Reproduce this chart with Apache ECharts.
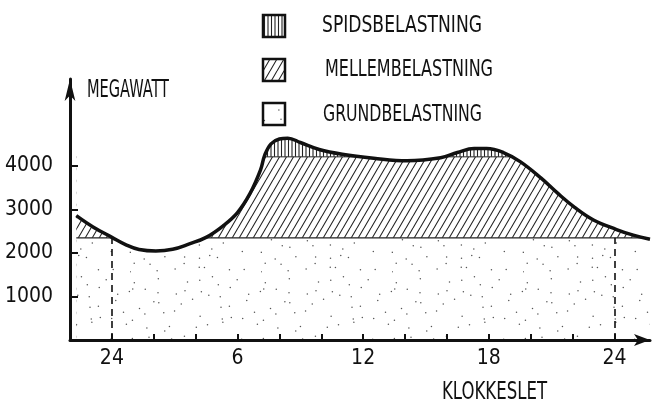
<!DOCTYPE html>
<html>
<head>
<meta charset="utf-8">
<script src="https://cdn.jsdelivr.net/npm/echarts@6/dist/echarts.min.js"></script>
<style>
html,body{margin:0;padding:0;background:#fff;}
#chart{width:653px;height:403px;}
</style>
</head>
<body>
<div id="chart"></div>
<script>
// ---- data ----
const hours = [22.3, 23.1, 24.0, 24.7, 25.3, 26.1, 26.9, 27.7, 28.5, 29.3, 30.0, 30.6, 31.1, 31.3, 31.6, 32.0, 32.4, 33.0, 33.9, 35.0, 36.5, 38.1, 39.7, 40.5, 41.3, 41.9, 42.7, 43.5, 44.5, 45.3, 46.1, 47.0, 48.1, 48.9, 49.7];
const load  = [2860, 2600, 2360, 2180, 2080, 2045, 2085, 2210, 2360, 2620, 2930, 3370, 3910, 4250, 4510, 4620, 4640, 4540, 4380, 4270, 4180, 4120, 4190, 4310, 4400, 4400, 4310, 4100, 3720, 3370, 3050, 2760, 2540, 2410, 2315];
const baseLoad = 2350;   // grundbelastning level
const midLoad = 4210;    // top of mellembelastning
const peakTop = 4700;    // spidsbelastning band top (clipped by curve)
const yTickValues = [1000, 2000, 3000, 4000];
const xTickHours = [24, 26, 28, 30, 32, 34, 36, 38, 40, 42, 44, 46, 48];
const xLabelHours = [24, 30, 36, 42, 48];
const xLabelText = ['24', '6', '12', '18', '24'];
const dashedHours = [24, 48];
const names = ['SPIDSBELASTNING', 'MELLEMBELASTNING', 'GRUNDBELASTNING'];
const yTitle = 'MEGAWATT';
const xTitle = 'KLOKKESLET';

// ---- fill patterns ----
function patVertical() {
  const c = document.createElement('canvas'); c.width = 7; c.height = 7;
  const g = c.getContext('2d');
  g.fillStyle = '#fff'; g.fillRect(0, 0, 7, 7);
  g.strokeStyle = '#222'; g.lineWidth = 1.1; g.beginPath();
  g.moveTo(1.5, 0); g.lineTo(1.5, 7); g.moveTo(5, 0); g.lineTo(5, 7); g.stroke();
  return c;
}
function patDiagonal() {
  const W = 7, H = 12;
  const c = document.createElement('canvas'); c.width = W; c.height = H;
  const g = c.getContext('2d');
  g.fillStyle = '#fff'; g.fillRect(0, 0, W, H);
  g.strokeStyle = '#222'; g.lineWidth = 1.1; g.beginPath();
  for (let k = -1; k <= 1; k++) { g.moveTo(k * W, H); g.lineTo(k * W + W, 0); }
  g.stroke();
  return c;
}
function patStipple() {
  const W = 131, H = 107;
  const c = document.createElement('canvas'); c.width = W; c.height = H;
  const g = c.getContext('2d');
  g.fillStyle = '#fff'; g.fillRect(0, 0, W, H);
  g.fillStyle = '#555';
  // jittered grid of dots (texture only)
  let s = 987654;
  const rnd = () => { s = (s * 1103515245 + 12345) % 2147483648; return s / 2147483648; };
  const step = 12;
  for (let yy = 0; yy < H - 2; yy += step) {
    for (let xx = 0; xx < W - 2; xx += step) {
      if (rnd() < 0.2) continue;
      g.beginPath(); g.arc(xx + 1 + rnd() * (step - 2), yy + 1 + rnd() * (step - 2), 0.75, 0, Math.PI * 2); g.fill();
    }
  }
  return c;
}
const pV = { image: patVertical(), repeat: 'repeat' };
const pD = { image: patDiagonal(), repeat: 'repeat' };
const pS = { image: patStipple(), repeat: 'repeat' };

const FONT = "'DejaVu Sans Condensed', 'Liberation Sans', sans-serif";
// horizontal squeeze so the lettering matches the narrow hand lettering
const mctx = document.createElement('canvas').getContext('2d');
function squeeze(text, size, targetW) {
  mctx.font = size + "px " + FONT;
  return targetW / mctx.measureText(text).width;
}
function label(text, x, y, size, targetW) {
  return { type: 'text', x: x, y: y, scaleX: squeeze(text, size, targetW), z: 100,
    style: { text: text, fontFamily: FONT, fontSize: size, fill: '#111', align: 'left', verticalAlign: 'middle' } };
}
function box(x, y, fill) {
  return { type: 'rect', x: x, y: y, z: 100, shape: { width: 22, height: 22 },
    style: { fill: fill, stroke: '#111', lineWidth: 2.5 } };
}

const x0 = hours[0], x1 = hours[hours.length - 1];
const curveData = hours.map((h, i) => [h, load[i]]);

const chart = echarts.init(document.getElementById('chart'), null, { renderer: 'canvas' });
chart.setOption({
  animation: false,
  backgroundColor: '#fff',
  grid: { left: 70, right: 3, top: 79, bottom: 63 },
  xAxis: {
    type: 'value', min: 22, max: 49.7, z: 10,
    axisLine: { lineStyle: { color: '#111', width: 3 }, symbol: ['none', 'arrow'], symbolSize: [9, 16] },
    axisTick: { inside: true, length: 6, lineStyle: { color: '#111', width: 2 }, customValues: xTickHours },
    axisLabel: {
      customValues: xLabelHours, margin: 8, color: '#111', fontFamily: FONT, fontSize: 21,
      formatter: v => xLabelText[xLabelHours.indexOf(v)] || ''
    },
    splitLine: { show: false }
  },
  yAxis: {
    type: 'value', min: 0, max: 6000, z: 10,
    axisLine: { show: true, lineStyle: { color: '#111', width: 3 }, symbol: ['none', 'arrow'], symbolSize: [8, 22] },
    axisTick: { show: true, inside: true, length: 8, lineStyle: { color: '#111', width: 2 }, customValues: yTickValues },
    axisLabel: { customValues: yTickValues, margin: 17, color: '#111', fontFamily: FONT, fontSize: 21,
      formatter: v => String(v) },
    splitLine: { show: false }
  },
  graphic: [
    box(263, 15, pV), box(263, 59, pD), box(263, 103, pS),
    label(names[0], 322, 26, 23, 160),
    label(names[1], 325, 70, 23, 168),
    label(names[2], 323, 115, 23, 159),
    label(yTitle, 87, 91, 24, 82),
    label(xTitle, 442, 392, 25, 105)
  ],
  series: [
    { name: names[0], type: 'line', data: [[x0, peakTop], [x1, peakTop]], showSymbol: false, z: 2,
      itemStyle: { color: '#222' }, lineStyle: { width: 0 }, areaStyle: { color: pV, opacity: 1 }, silent: true },
    { name: names[1], type: 'line', data: [[x0, midLoad], [x1, midLoad]], showSymbol: false, z: 2,
      itemStyle: { color: '#222' }, lineStyle: { width: 1, color: '#222' }, areaStyle: { color: pD, opacity: 1 }, silent: true },
    { name: names[2], type: 'line', data: [[x0, baseLoad], [x1, baseLoad]], showSymbol: false, z: 2,
      itemStyle: { color: '#222' }, lineStyle: { width: 1.2, color: '#222' }, areaStyle: { color: pS, opacity: 1 }, silent: true,
      markLine: {
        silent: true, symbol: ['none', 'none'], label: { show: false },
        lineStyle: { type: [7, 5], width: 1.6, color: '#111' },
        data: dashedHours.map(h => [{ coord: [h, 0] }, { coord: [h, baseLoad] }])
      } },
    { name: 'load', type: 'line', data: curveData, smooth: 0.4, showSymbol: false, z: 4,
      lineStyle: { width: 3.5, color: '#111' },
      areaStyle: { color: '#fff', opacity: 1, origin: 'end' }, silent: true }
  ]
});
</script>
</body>
</html>
